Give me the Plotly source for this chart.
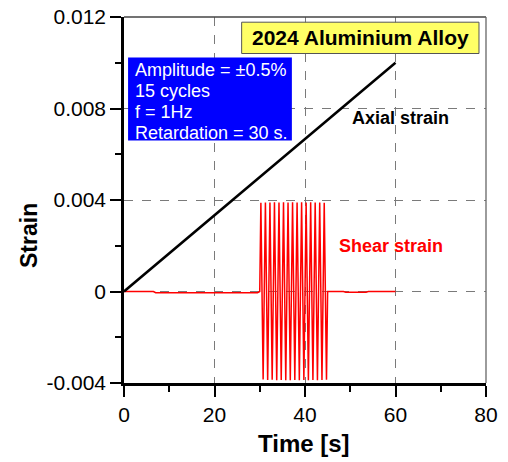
import plotly.graph_objects as go

# ---- data ----
axial_time = [0, 30, 60]
axial_strain = [0.0, 0.0050, 0.0100]

shear_time = [0, 6.5, 7.0, 29.5, 30.0,
              30.25, 30.75, 31.25, 31.75, 32.25, 32.75, 33.25, 33.75, 34.25, 34.75,
              35.25, 35.75, 36.25, 36.75, 37.25, 37.75, 38.25, 38.75, 39.25, 39.75,
              40.25, 40.75, 41.25, 41.75, 42.25, 42.75, 43.25, 43.75, 44.25, 44.75,
              45.0, 48.5, 49.0, 53.5, 54.0, 60.0]
shear_strain = [0.0, 0.0, -0.00005, -0.00005, 0.0,
                0.00388, -0.00385, 0.00389, -0.00387, 0.00389, -0.00386, 0.00390, -0.00388, 0.00389, -0.00387,
                0.00390, -0.00388, 0.00389, -0.00388, 0.00390, -0.00387, 0.00389, -0.00388, 0.00390, -0.00387,
                0.00389, -0.00388, 0.00390, -0.00387, 0.00389, -0.00388, 0.00389, -0.00387, 0.00388, -0.00386,
                0.0, 0.0, -0.00003, -0.00003, 0.0, 0.0]

x_ticks = [0, 20, 40, 60, 80]
x_tick_labels = ["0", "20", "40", "60", "80"]
y_ticks = [-0.004, 0.0, 0.004, 0.008, 0.012]
y_tick_labels = ["-0.004", "0", "0.004", "0.008", "0.012"]

FONT = "Arial, Liberation Sans, sans-serif"

# page body has an 8px default margin, so the figure is offset by 8px on screen
OFF = 8
W, H = 508 - OFF, 462 - OFF
# plot area on screen: x 124..486, y 17..383
SL, ST, SR, SB = 124, 17, 486, 383
L, T = SL - OFF, ST - OFF
R = W - L - (SR - SL)
B = H - T - (SB - ST)

def px_x(p):
    return (p - SL) / (SR - SL)

def px_y(p):
    return (SB - p) / (SB - ST)

fig = go.Figure()
fig.add_trace(go.Scatter(x=shear_time, y=shear_strain, mode="lines",
                         line=dict(color="#FF0000", width=1.5), showlegend=False))
fig.add_trace(go.Scatter(x=axial_time, y=axial_strain, mode="lines",
                         line=dict(color="#000000", width=2.5), showlegend=False))

axis_common = dict(
    showline=True, linecolor="black", linewidth=2.5,
    ticks="outside", ticklen=11, tickwidth=2, tickcolor="black",
    showgrid=True, gridcolor="#7a7a7a", gridwidth=1, griddash="dash",
    zeroline=False, automargin=False, ticklabeloverflow="allow",
    tickfont=dict(family=FONT, size=21, color="black"),
)

fig.update_xaxes(range=[0, 80], tickvals=x_ticks, ticktext=x_tick_labels,
                 minor=dict(ticks="outside", ticklen=6, tickwidth=2, tickcolor="black",
                            tick0=0, dtick=10, showgrid=False),
                 **axis_common)
fig.update_yaxes(range=[-0.004, 0.012], tickvals=y_ticks, ticktext=y_tick_labels,
                 minor=dict(ticks="outside", ticklen=6, tickwidth=2, tickcolor="black",
                            tick0=-0.004, dtick=0.002, showgrid=False),
                 **axis_common)

shapes = [
    dict(type="line", xref="paper", yref="paper", x0=0, x1=1, y0=1, y1=1,
         line=dict(color="#444444", width=1.3), layer="above"),
    dict(type="line", xref="paper", yref="paper", x0=1, x1=1, y0=0, y1=1,
         line=dict(color="#666666", width=1.3), layer="above"),
    # blue info box
    dict(type="rect", xref="x", yref="y", x0=0.9, x1=37.1, y0=0.00660, y1=0.01023,
         fillcolor="#0000FF", line=dict(width=0), layer="above"),
    # yellow title box
    dict(type="rect", xref="x", yref="y", x0=26.0, x1=78.45, y0=0.010404, y1=0.011773,
         fillcolor="#FFFF66", line=dict(color="#555555", width=1), layer="above"),
]

annotations = [
    dict(x=52.2, y=0.01109, xref="x", yref="y", text="<b>2024 Aluminium Alloy</b>",
         showarrow=False, font=dict(family=FONT, size=21, color="black"),
         xanchor="center", yanchor="middle"),
    dict(x=61.0, y=0.0076, xref="x", yref="y", text="<b>Axial strain</b>",
         showarrow=False, font=dict(family=FONT, size=18, color="black"),
         xanchor="center", yanchor="middle"),
    dict(x=59.0, y=0.00198, xref="x", yref="y", text="<b>Shear strain</b>",
         showarrow=False, font=dict(family=FONT, size=18, color="#FF0000"),
         xanchor="center", yanchor="middle"),
    # axis titles
    dict(x=px_x(304), y=px_y(443), xref="paper", yref="paper", text="<b>Time [s]</b>",
         showarrow=False, font=dict(family=FONT, size=24, color="black"),
         xanchor="center", yanchor="middle"),
    dict(x=px_x(29), y=px_y(236), xref="paper", yref="paper", text="<b>Strain</b>",
         showarrow=False, font=dict(family=FONT, size=23, color="black"), textangle=-90,
         xanchor="center", yanchor="middle"),
]
info_lines = ["Amplitude = ±0.5%", "15 cycles", "f = 1Hz", "Retardation = 30 s."]
info_y = [0.009705, 0.008787, 0.007869, 0.006951]
for txt, yy in zip(info_lines, info_y):
    annotations.append(dict(x=2.0, y=yy, xref="x", yref="y", text=txt, showarrow=False,
                            font=dict(family=FONT, size=18, color="white"),
                            xanchor="left", yanchor="middle"))

fig.update_layout(
    width=W, height=H,
    margin=dict(l=L, r=R, t=T, b=B),
    paper_bgcolor="white", plot_bgcolor="white",
    shapes=shapes, annotations=annotations,
    showlegend=False,
)

fig.write_html("out.html")
